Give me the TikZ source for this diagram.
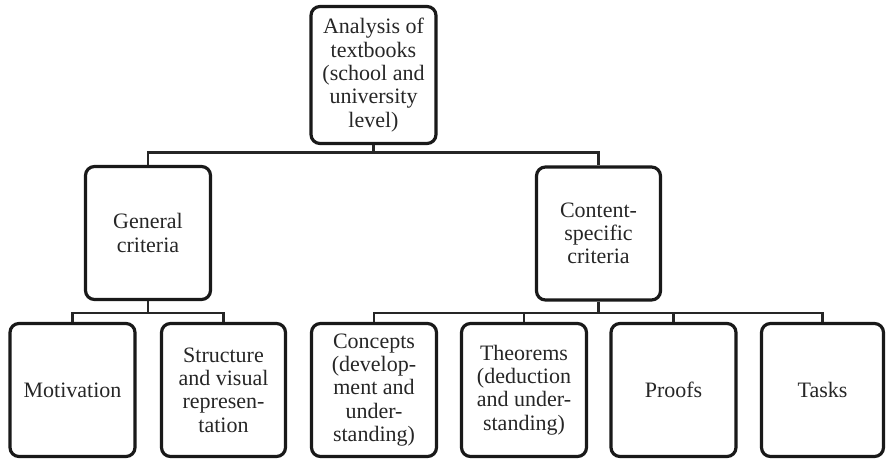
\documentclass[tikz,border=0pt]{standalone}
\usepackage{fontspec}
\setmainfont{Liberation Serif}
\begin{document}
\begin{tikzpicture}[x=1pt,y=-1pt,
  boxnode/.style={draw=black!90, line width=3.2pt, rounded corners=9pt, align=center,
    minimum width=125pt, minimum height=133pt, inner sep=1pt,
    font=\fontsize{22}{23.3}\selectfont, text=black!85},
  conn/.style={draw=black!85, line width=2.2pt}]
\useasboundingbox (0,0) rectangle (887,461);
\node[boxnode, minimum height=137pt] (top) at (373.5,75) {Analysis of\\textbooks\\(school and\\university\\level)};
\node[boxnode] (gen) at (148,233) {General\\criteria};
\node[boxnode, minimum width=124pt] (con) at (598.5,233.5) {Content-\\specific\\criteria};
\node[boxnode] (mot) at (72.5,390) {Motivation};
\node[boxnode, minimum width=124pt] (str) at (223.5,390) {Structure\\and visual\\represen-\\tation};
\node[boxnode] (cpt) at (374,390) {Concepts\\(develop-\\ment and\\under-\\standing)};
\node[boxnode] (thm) at (524,390) {Theorems\\(deduction\\and under-\\standing)};
\node[boxnode] (prf) at (673.5,390) {Proofs};
\node[boxnode, minimum width=122pt] (tsk) at (822.5,390) {Tasks};
\coordinate (bus1) at (0,152.5);
\coordinate (bus2) at (0,313);
\draw[conn] (top.south) -- (top.south |- bus1);
\draw[conn] (gen.north) -- (gen.north |- bus1) -| (con.north);
\draw[conn] (gen.south) -- (gen.south |- bus2);
\draw[conn] (mot.north) -- (mot.north |- bus2) -| (str.north);
\draw[conn] (con.south) -- (con.south |- bus2);
\draw[conn] (cpt.north) -- (cpt.north |- bus2) -| (tsk.north);
\draw[conn] (thm.north) -- (thm.north |- bus2);
\draw[conn] (prf.north) -- (prf.north |- bus2);
\end{tikzpicture}
\end{document}
